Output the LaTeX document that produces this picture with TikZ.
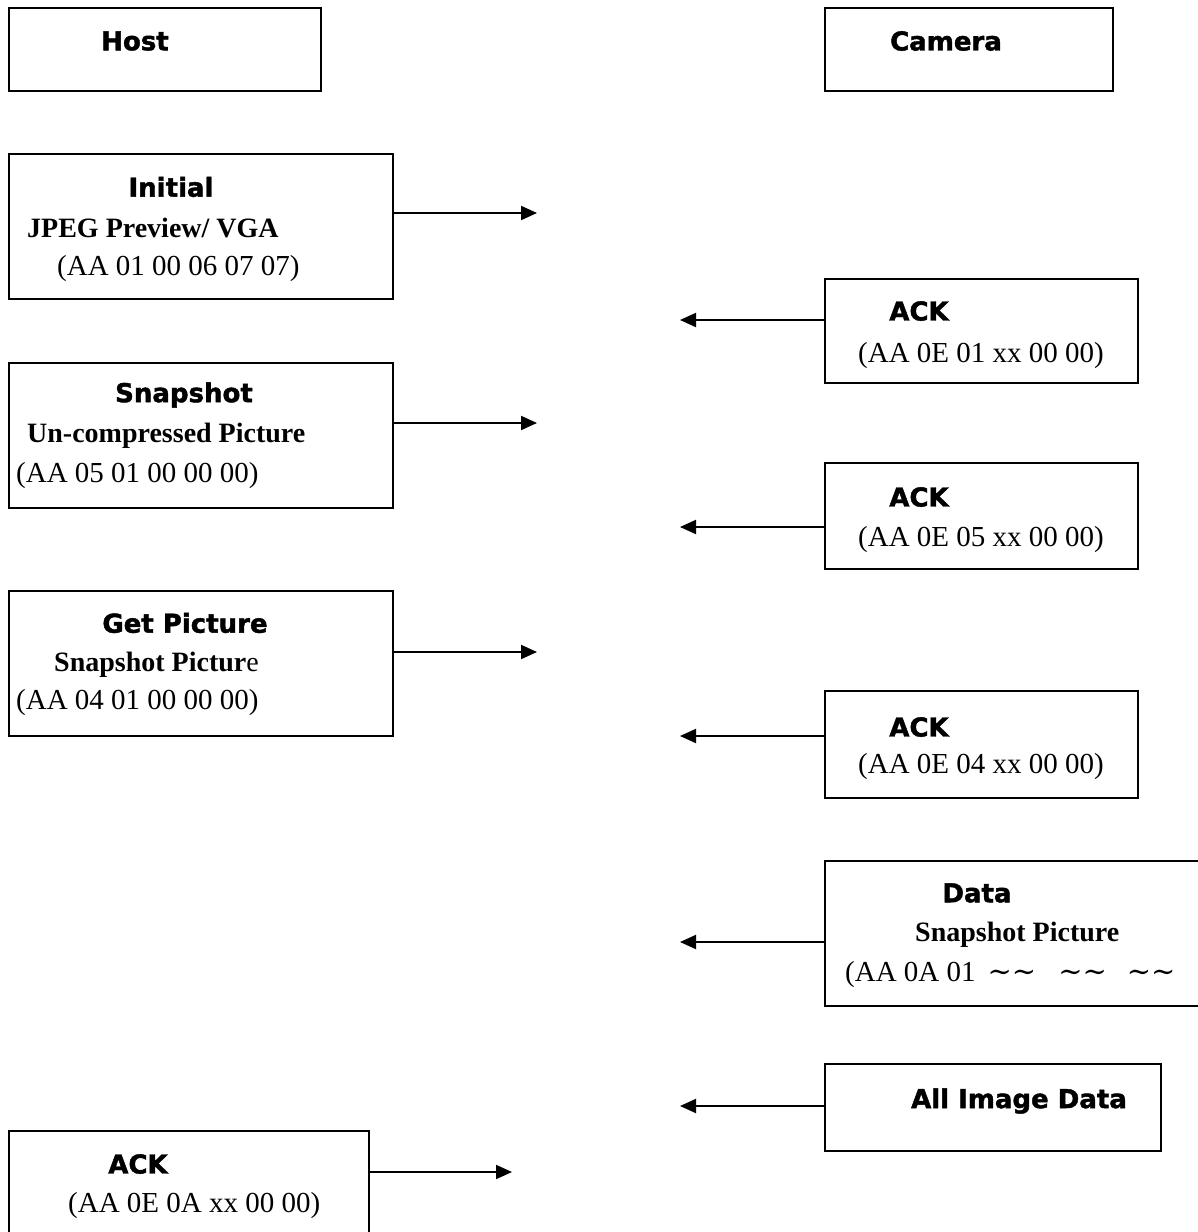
\documentclass[tikz,border=0pt]{standalone}
\usepackage{fontspec}
\setmainfont{Liberation Serif}
\newfontfamily\headfont{DejaVu Sans}[BoldFeatures={FakeBold=1.6}]
\newfontfamily\wavefont{DejaVu Serif}
\usepackage{tikz}
\usetikzlibrary{arrows.meta,positioning}

\begin{document}
\begin{tikzpicture}[
  x=1pt, y=-1pt,
  box/.style={draw=black, line width=2pt, anchor=north west, inner sep=0pt},
  head/.style={font=\headfont\bfseries\fontsize{26}{30}\selectfont, inner sep=0pt},
  code/.style={font=\fontsize{29}{32}\selectfont, anchor=west, inner sep=0pt},
  bcode/.style={font=\bfseries\fontsize{28}{32}\selectfont, anchor=west, inner sep=0pt},
  arr/.style={-{Triangle[length=16pt,width=14pt]}, line width=2pt}
]
\useasboundingbox (0,0) rectangle (1198,1232);
% column headers
\node[box, minimum width=312pt, minimum height=83pt] (host) at (8,7) {};
\node[head] (hostT) at (135,41) {Host};
\node[box, minimum width=288pt, minimum height=83pt] (cam) at (824,7) {};
\node[head] (camT) at (946,41) {Camera};

% host commands
\node[box, minimum width=384pt, minimum height=145pt] (init) at (8,153) {};
\node[head] (initT) at (171,187) {Initial};
\node[bcode] (initS) at (27,228) {JPEG Preview/ VGA};
\node[code] (initC) at (57,269) {(AA 01 00 06 07 07)};

\node[box, minimum width=384pt, minimum height=145pt] (snap) at (8,362) {};
\node[head] (snapT) at (184,395) {Snapshot};
\node[bcode] (snapS) at (27,436) {Un-compressed Picture};
\node[code] (snapC) at (16,476) {(AA 05 01 00 00 00)};

\node[box, minimum width=384pt, minimum height=145pt] (get) at (8,590) {};
\node[head] (getT) at (185,623) {Get Picture};
\node[bcode] (getS) at (54,665) {Snapshot Pictur\mdseries e};
\node[code] (getC) at (16,703) {(AA 04 01 00 00 00)};

\node[box, minimum width=360pt, minimum height=130pt] (hack) at (8,1130) {};
\node[head] (hackT) at (138,1164) {ACK};
\node[code] (hackC) at (68,1206) {(AA 0E 0A xx 00 00)};

% camera replies
\node[box, minimum width=313pt, minimum height=104pt] (ack1) at (824,278) {};
\node[head] (ack1T) at (919,311) {ACK};
\node[code] (ack1C) at (858,356) {(AA 0E 01 xx 00 00)};

\node[box, minimum width=313pt, minimum height=106pt] (ack2) at (824,462) {};
\node[head] (ack2T) at (919,497) {ACK};
\node[code] (ack2C) at (858,540) {(AA 0E 05 xx 00 00)};

\node[box, minimum width=313pt, minimum height=107pt] (ack3) at (824,690) {};
\node[head] (ack3T) at (919,727) {ACK};
\node[code] (ack3C) at (858,767) {(AA 0E 04 xx 00 00)};

\node[box, minimum width=400pt, minimum height=145pt] (data) at (824,860) {};
\node[head] (dataT) at (977,893) {Data};
\node[bcode] (dataS) at (915,935) {Snapshot Picture};
\node[code] (dataC) at (845,975) {(AA 0A 01\hspace{12pt}{\wavefont ∼∼\hspace{22pt}∼∼\hspace{20pt}∼∼}};

\node[box, minimum width=336pt, minimum height=87pt] (all) at (824,1063) {};
\node[head] (allT) at (1019,1101) {All Image Data};

% arrow ends
\coordinate (initE) at (537,213);
\coordinate (snapE) at (537,423);
\coordinate (getE) at (537,652);
\coordinate (hackE) at (512,1172);
\coordinate (ack1E) at (680,320);
\coordinate (ack2E) at (680,527);
\coordinate (ack3E) at (680,736);
\coordinate (dataE) at (680,942);
\coordinate (allE) at (680,1106);

\draw[arr] (init.east |- initE) -- (initE);
\draw[arr] (snap.east |- snapE) -- (snapE);
\draw[arr] (get.east |- getE) -- (getE);
\draw[arr] (hack.east |- hackE) -- (hackE);
\draw[arr] (ack1.west |- ack1E) -- (ack1E);
\draw[arr] (ack2.west |- ack2E) -- (ack2E);
\draw[arr] (ack3.west |- ack3E) -- (ack3E);
\draw[arr] (data.west |- dataE) -- (dataE);
\draw[arr] (all.west |- allE) -- (allE);
\end{tikzpicture}
\end{document}
